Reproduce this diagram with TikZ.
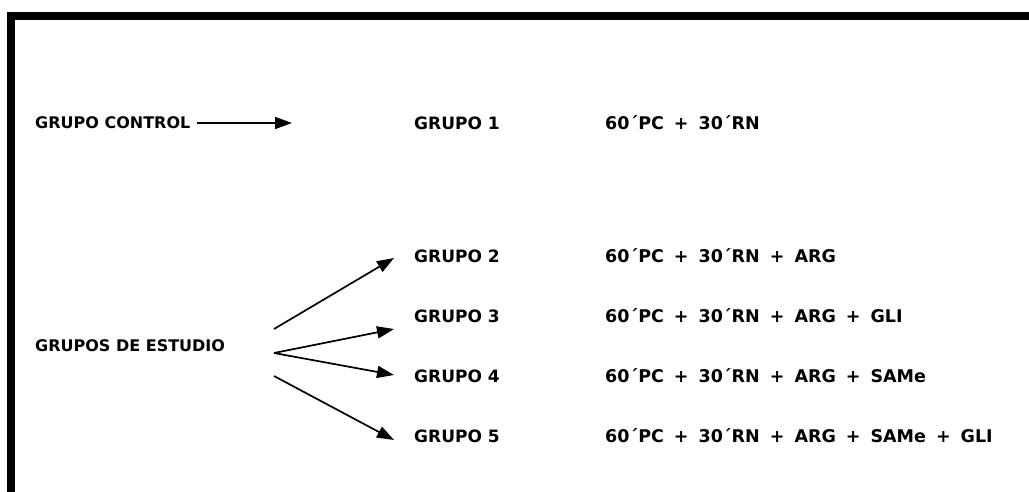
\documentclass[tikz,border=0pt]{standalone}
\usepackage{fontspec}
\setmainfont{DejaVu Sans}
\usetikzlibrary{arrows.meta}
\begin{document}
\begin{tikzpicture}[x=1pt,y=-1pt,
  lbl/.style={anchor=west,inner sep=0pt,font=\fontsize{16}{20}\selectfont\bfseries},
  grp/.style={lbl,font=\fontsize{17}{20}\selectfont\bfseries},
  dose/.style={lbl,font=\fontsize{17.5}{20}\selectfont\bfseries,
    execute at begin node={\setlength{\spaceskip}{10pt}}},
  arr/.style={line width=1.7pt,-{Triangle[length=17pt,width=12pt]}},
  frame/.style={line width=8pt}]
\useasboundingbox (0,0) rectangle (1029,491);
% open frame: only the top and left sides lie on the page
\draw[frame] (11,500) -- (11,16) -- (1040,16);

% labels
\node[lbl] (ctrl) at (35,123) {GRUPO CONTROL};
\node[lbl] (est)  at (35,346) {GRUPOS DE ESTUDIO};
\node[grp] (g1) at (414,123) {GRUPO 1};
\node[grp] (g2) at (414,256) {GRUPO 2};
\node[grp] (g3) at (414,316) {GRUPO 3};
\node[grp] (g4) at (414,376) {GRUPO 4};
\node[grp] (g5) at (414,436) {GRUPO 5};
\node[dose] (t1) at (605,123) {60´PC + 30´RN};
\node[dose] (t2) at (605,256) {60´PC + 30´RN + ARG};
\node[dose] (t3) at (605,316) {60´PC + 30´RN + ARG + GLI};
\node[dose] (t4) at (605,376) {60´PC + 30´RN + ARG + SAMe};
\node[dose] (t5) at (605,436) {60´PC + 30´RN + ARG + SAMe + GLI};

% arrow ends
\coordinate (c0) at (197,123);
\coordinate (c1) at (292,123);
\coordinate (s2) at (274,329);
\coordinate (s34) at (274,353);
\coordinate (s5) at (274,376);
\coordinate (e2) at (394,258);
\coordinate (e3) at (394,329);
\coordinate (e4) at (394,375);
\coordinate (e5) at (394,440);

\draw[arr] (c0) -- (c1);
\draw[arr] (s2) -- (e2);
\draw[arr] (s34) -- (e3);
\draw[arr] (s34) -- (e4);
\draw[arr] (s5) -- (e5);
\end{tikzpicture}
\end{document}
